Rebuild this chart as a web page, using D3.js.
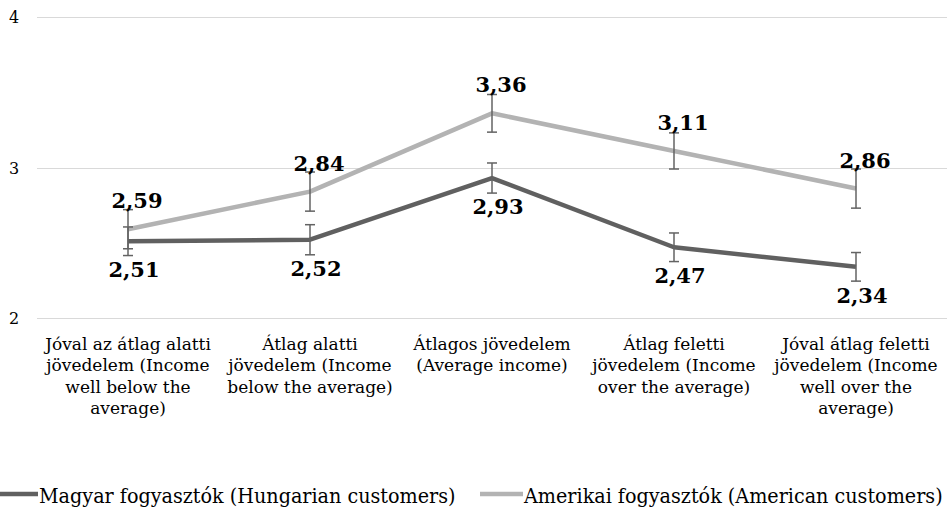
<!DOCTYPE html>
<meta charset="utf-8">
<style>
  html, body { margin: 0; padding: 0; background: #fff; overflow: hidden; }
  svg { display: block; }
  text { font-family: "DejaVu Serif", "Liberation Serif", serif; fill: #000; }
  .grid line { stroke: #d9d9d9; stroke-width: 1px; shape-rendering: crispEdges; }
  .tick-label { font-size: 16px; }
  .cat-label { font-size: 17px; }
  .value { font-size: 21px; font-weight: bold; }
  .legend text { font-family: "DejaVu Serif Condensed", "DejaVu Serif", serif; font-stretch: condensed; font-size: 21.3px; }
  .err { stroke: #636363; stroke-width: 1.5px; fill: none; }
</style>
<body>
<svg></svg>
<script src="https://d3js.org/d3.v7.min.js"></script>
<script>
// data
var categories = [
  ["Jóval az átlag alatti", "jövedelem (Income", "well below the", "average)"],
  ["Átlag alatti", "jövedelem (Income", "below the average)"],
  ["Átlagos jövedelem", "(Average income)"],
  ["Átlag feletti", "jövedelem (Income", "over the average)"],
  ["Jóval átlag feletti", "jövedelem (Income", "well over the", "average)"]
];
var hungarian = [2.51, 2.52, 2.93, 2.47, 2.34];
var american = [2.59, 2.84, 3.36, 3.11, 2.86];
var hungarianErr = [0.095, 0.1, 0.1, 0.095, 0.095];
var americanErr = [0.13, 0.13, 0.125, 0.12, 0.13];
var yTicks = [2, 3, 4];
var seriesNames = ["Magyar fogyasztók (Hungarian customers)", "Amerikai fogyasztók (American customers)"];
var seriesColors = ["#606060", "#b3b3b3"];

var width = 947, height = 508;
var svg = d3.select("svg").attr("width", width).attr("height", height);

var x = d3.scaleBand().domain(d3.range(categories.length)).range([37, 947]);
var cx = function(i) { return x(i) + x.bandwidth() / 2; };
var y = d3.scaleLinear().domain([2, 4]).range([318, 17]);

var fmt = function(v) { return d3.format(".2f")(v).replace(".", ","); };

// gridlines
svg.append("g").attr("class", "grid")
  .selectAll("line").data(yTicks).enter().append("line")
    .attr("x1", 37).attr("x2", width)
    .attr("y1", function(d) { return Math.round(y(d)) + 0.5; })
    .attr("y2", function(d) { return Math.round(y(d)) + 0.5; });

svg.append("g").selectAll("text").data(yTicks).enter().append("text")
  .attr("class", "tick-label")
  .attr("x", 14)
  .attr("y", function(d) { return y(d) + 6; })
  .attr("text-anchor", "middle")
  .text(function(d) { return d; });

// category labels
var cat = svg.append("g").selectAll("text").data(categories).enter().append("text")
  .attr("class", "cat-label")
  .attr("text-anchor", "middle")
  .attr("transform", function(d, i) { return "translate(" + cx(i) + ",350)"; });
cat.selectAll("tspan").data(function(d) { return d; }).enter().append("tspan")
  .attr("x", 0)
  .attr("y", function(d, j) { return j * 21.4; })
  .text(function(d) { return d; });

var line = d3.line()
  .x(function(d, i) { return cx(i); })
  .y(function(d) { return y(d); });

var series = [
  { values: hungarian, err: hungarianErr, color: seriesColors[0], below: true },
  { values: american, err: americanErr, color: seriesColors[1], below: false }
];

// lines
series.forEach(function(s) {
  svg.append("path")
    .datum(s.values)
    .attr("fill", "none")
    .attr("stroke", s.color)
    .attr("stroke-width", 4.5)
    .attr("stroke-linejoin", "round")
    .attr("d", line);
});

// error bars
series.forEach(function(s) {
  var g = svg.append("g").attr("class", "err");
  s.values.forEach(function(v, i) {
    var x0 = cx(i), y0 = y(v - s.err[i]), y1 = y(v + s.err[i]);
    g.append("line").attr("x1", x0).attr("x2", x0).attr("y1", y0).attr("y2", y1);
    g.append("line").attr("x1", x0 - 5).attr("x2", x0 + 5).attr("y1", y0).attr("y2", y0);
    g.append("line").attr("x1", x0 - 5).attr("x2", x0 + 5).attr("y1", y1).attr("y2", y1);
  });
});

// value labels
series.forEach(function(s) {
  svg.append("g").selectAll("text").data(s.values).enter().append("text")
    .attr("class", "value")
    .attr("text-anchor", "middle")
    .attr("x", function(d, i) { return cx(i) + (s.below ? 6 : 9); })
    .attr("y", function(d) { return s.below ? y(d) + 36 : y(d) - 21; })
    .text(fmt);
});

// legend
var legend = svg.append("g").attr("class", "legend");
var legendX = [-5, 480];
seriesNames.forEach(function(name, i) {
  legend.append("line")
    .attr("x1", legendX[i]).attr("x2", legendX[i] + 43)
    .attr("y1", 494).attr("y2", 494)
    .attr("stroke", seriesColors[i]).attr("stroke-width", 4.5);
  legend.append("text")
    .attr("x", legendX[i] + 44).attr("y", 503)
    .text(name);
});
</script>
</body>
